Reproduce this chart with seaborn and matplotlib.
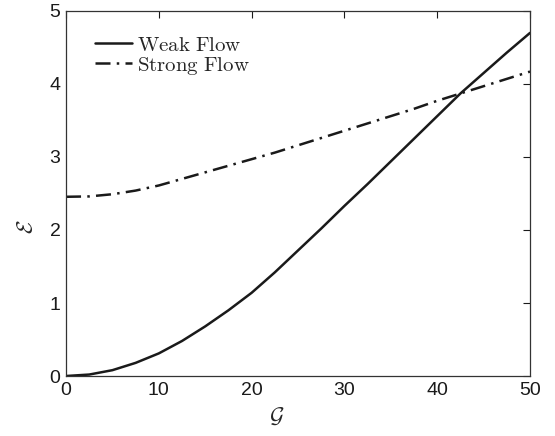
import pandas as pd
import matplotlib
matplotlib.use("Agg")
import matplotlib.pyplot as plt
import seaborn as sns

# Values
g_values = [0, 2.5, 5, 7.5, 10, 12.5, 15, 17.5, 20, 22.5, 25,
            27.5, 30, 32.5, 35, 37.5, 40, 42.5, 45, 47.5, 50]
weak_flow = [0.0, 0.02, 0.08, 0.18, 0.31, 0.48, 0.68, 0.90, 1.14, 1.42, 1.72,
             2.02, 2.33, 2.63, 2.94, 3.25, 3.56, 3.87, 4.15, 4.43, 4.70]
strong_flow = [2.455, 2.46, 2.49, 2.54, 2.61, 2.70, 2.79, 2.88, 2.97, 3.06, 3.16,
               3.26, 3.36, 3.46, 3.56, 3.66, 3.77, 3.87, 3.97, 4.07, 4.17]
x_ticks = [0, 10, 20, 30, 40, 50]
y_ticks = [0, 1, 2, 3, 4, 5]


def main():
    sns.set_style("white")
    plt.rcParams['font.family'] = ['Liberation Sans', 'DejaVu Sans']
    plt.rcParams['mathtext.fontset'] = 'cm'

    df_weak = pd.DataFrame({'G': g_values, 'E': weak_flow})
    df_strong = pd.DataFrame({'G': g_values, 'E': strong_flow})

    fig = plt.figure(figsize=(5.55, 4.36), dpi=100)
    ax = fig.add_axes([0.119, 0.1376, 0.836, 0.8372])

    sns.lineplot(data=df_weak, x='G', y='E', ax=ax, color='#1a1a1a',
                 linewidth=1.8, label=r'$\mathrm{Weak\ Flow}$')
    sns.lineplot(data=df_strong, x='G', y='E', ax=ax, color='#1a1a1a',
                 linewidth=1.8, linestyle=(0, (6, 2.5, 1, 2.5)),
                 label=r'$\mathrm{Strong\ Flow}$')

    ax.set_xlim(0, 50)
    ax.set_ylim(0, 5)
    ax.set_xticks(x_ticks)
    ax.set_yticks(y_ticks)
    ax.tick_params(direction='in', length=5, width=0.8, top=True, right=True,
                   labelsize=14, colors='#1a1a1a', pad=4)
    for side in ax.spines.values():
        side.set_color('#333333')
        side.set_linewidth(0.9)

    ax.set_xlabel(r'$\mathcal{G}$', fontsize=16, va='center')
    ax.set_ylabel(r'$\mathcal{E}$', fontsize=16, va='center')
    ax.xaxis.set_label_coords(0.455, -0.112)
    ax.yaxis.set_label_coords(-0.084, 0.41)

    ax.legend(loc='upper left', frameon=False, fontsize=15,
              handlelength=1.75, handletextpad=0.25, labelspacing=0.0,
              borderaxespad=0.0, bbox_to_anchor=(0.045, 0.955))

    fig.savefig('out.png', dpi=100)


if __name__ == "__main__":
    main()
